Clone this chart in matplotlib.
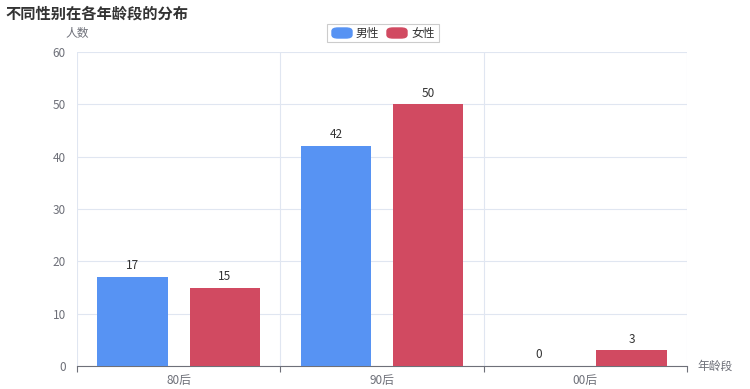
import matplotlib.pyplot as plt
from matplotlib.patches import FancyBboxPatch

plt.rcParams['font.family'] = ['Noto Sans CJK SC', 'DejaVu Sans']

categories = ["80后", "90后", "00后"]
male = [17, 42, 0]
female = [15, 50, 3]
series_names = ["男性", "女性"]
colors = ["#5793f3", "#d14a61"]

fig = plt.figure(figsize=(7.5, 3.89), dpi=100)
ax = fig.add_axes([77 / 750, 23 / 389, 610 / 750, 314 / 389])

centers = [i + 0.5 for i in range(len(categories))]
w = 0.345
off = 0.227
for vals, sign, c in [(male, -1, colors[0]), (female, 1, colors[1])]:
    xs = [x + sign * off for x in centers]
    ax.bar(xs, vals, width=w, color=c, zorder=3)
    for x, v in zip(xs, vals):
        ax.text(x, v + 0.9, str(v), ha="center", va="bottom", fontsize=8.5, color="#333333")

ax.set_xlim(0, 3)
ax.set_ylim(0, 60)
ax.set_yticks(range(0, 61, 10))
ax.set_xticks([0, 1, 2, 3])
ax.set_xticklabels([])
ax.set_xticks(centers, minor=True)
ax.set_xticklabels(categories, minor=True)
ax.tick_params(axis="x", which="minor", length=0, pad=6, labelsize=8.5, labelcolor="#6e7079")
ax.tick_params(axis="x", which="major", length=4, color="#6e7079", direction="out")
ax.tick_params(axis="y", length=0, pad=8, labelsize=8.5, labelcolor="#6e7079")

ax.grid(axis="y", color="#e0e6f1", linewidth=0.8, zorder=0)
ax.grid(axis="x", which="major", color="#e0e6f1", linewidth=0.8, zorder=0)
for s in ["top", "right", "left"]:
    ax.spines[s].set_visible(False)
ax.spines["bottom"].set_color("#6e7079")

fig.text(5 / 750, 1 - 14 / 389, "不同性别在各年龄段的分布", fontsize=11, fontweight="bold",
         color="#333333", va="center", ha="left")
fig.text(77 / 750, 1 - 33 / 389, "人数", fontsize=8.5, color="#6e7079", va="center", ha="center")
fig.text(697 / 750, 23 / 389, "年龄段", fontsize=8.5, color="#6e7079", va="center", ha="left")

# legend
leg_y = 1 - 33 / 389
items_x = [332, 387]
for name, c, lx in zip(series_names, colors, items_x):
    fig.patches.append(FancyBboxPatch((lx / 750, leg_y - 5 / 389), 20 / 750, 10 / 389,
                                      boxstyle="round,pad=0,rounding_size=0.008",
                                      transform=fig.transFigure, color=c))
    fig.text((lx + 24) / 750, leg_y, name, fontsize=8.5, color="#333333", va="center", ha="left")
fig.patches.append(plt.Rectangle((327 / 750, leg_y - 9 / 389), 112 / 750, 18 / 389,
                                 transform=fig.transFigure, fill=False, edgecolor="#cccccc",
                                 linewidth=0.8))

fig.savefig("out.png", dpi=100)
